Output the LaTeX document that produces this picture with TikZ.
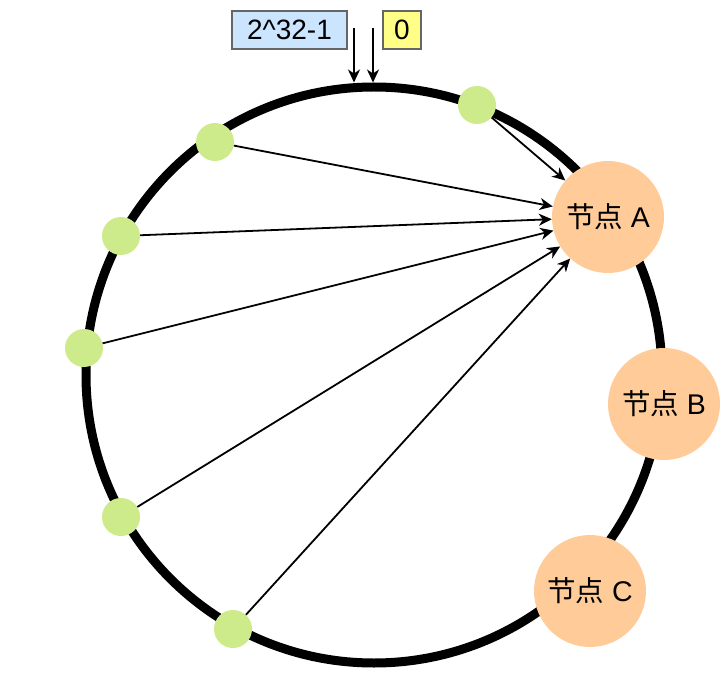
\documentclass[tikz,border=0pt]{standalone}
\usepackage{fontspec}
\setmainfont{Liberation Sans}
\newfontfamily\cjkfont{Noto Sans CJK SC}
\usepackage{xcolor}
\usetikzlibrary{arrows.meta}
\definecolor{keygreen}{HTML}{CDEB8B}
\definecolor{serverorange}{HTML}{FFCC99}
\definecolor{labelblue}{HTML}{CCE5FF}
\definecolor{labelyellow}{HTML}{FFFF88}
\tikzset{
    hash-ring/.style = {draw=black, circle, line width=9pt, minimum size=576pt, inner sep=0pt},
    key-dot/.style = {fill=keygreen, circle, minimum size=38pt, inner sep=0pt},
    server-node/.style = {fill=serverorange, circle, minimum size=112pt, inner sep=0pt, font=\fontsize{28.5}{34}\selectfont},
    label-box/.style = {draw=black!60, line width=1.3pt, minimum height=38pt, inner sep=0pt, font=\fontsize{28}{33}\selectfont},
    key-arrow/.style = {-{Stealth[length=13pt,width=12pt,inset=4pt]}, line width=1.8pt},
}

\begin{document}
\begin{tikzpicture}[x=1pt,y=-1pt]
\useasboundingbox (0,0) rectangle (726,679);
% the ring
\node [hash-ring] (ring) at (374,375) {};
% labels at the top
\node [label-box, fill=labelblue, minimum width=115pt] (maxlabel) at (289.5,30) {2\string^32-1};
\node [label-box, fill=labelyellow, minimum width=38pt] (zerolabel) at (402,30) {0};
\coordinate (maxstart) at (354,28);
\coordinate (zerostart) at (373,28);
\draw [key-arrow] (maxstart) -- (maxstart |- ring.north);
\draw [key-arrow] (zerostart) -- (zerostart |- ring.north);
% servers
\node [server-node] (nodeA) at (608,217) {{\cjkfont 节点} A};
\node [server-node] (nodeB) at (664,404) {{\cjkfont 节点} B};
\node [server-node] (nodeC) at (590,591) {{\cjkfont 节点} C};
% keys
\node [key-dot] (key1) at (477,105) {};
\node [key-dot] (key2) at (215,142) {};
\node [key-dot] (key3) at (121,236) {};
\node [key-dot] (key4) at (84,348) {};
\node [key-dot] (key5) at (121,517) {};
\node [key-dot] (key6) at (233,629) {};
% keys go to node A
\draw [key-arrow] (key1) -- (nodeA);
\draw [key-arrow] (key2) -- (nodeA);
\draw [key-arrow] (key3) -- (nodeA);
\draw [key-arrow] (key4) -- (nodeA);
\draw [key-arrow] (key5) -- (nodeA);
\draw [key-arrow] (key6) -- (nodeA);
\end{tikzpicture}
\end{document}
